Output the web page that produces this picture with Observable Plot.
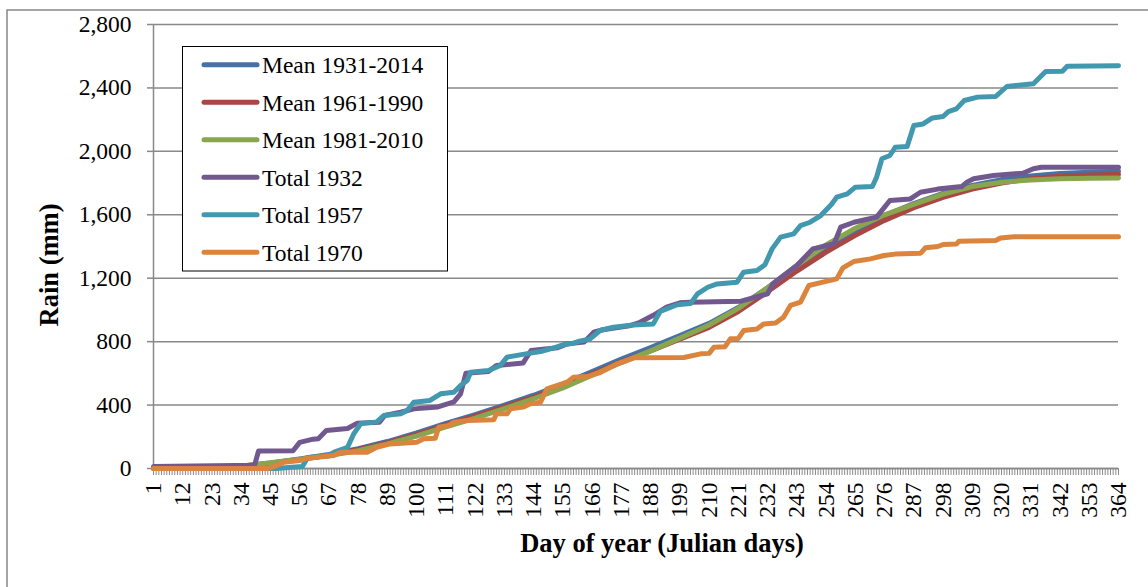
<!DOCTYPE html>
<html><head><meta charset="utf-8">
<script src="https://cdn.jsdelivr.net/npm/d3@7"></script>
<script src="https://cdn.jsdelivr.net/npm/@observablehq/plot@0.6"></script>
<style>
body{margin:0;background:#fff;}
#chart{width:1148px;height:587px;}
#chart svg text{font-family:'Liberation Serif','Times New Roman',serif;}
</style>
</head><body><div id="chart"></div>
<script>
// ---- data ----
const seriesNames = ["Mean 1931-2014","Mean 1961-1990","Mean 1981-2010","Total 1932","Total 1957","Total 1970"];
const seriesColors = ["#4572A7","#AA4643","#89A54E","#71588F","#4198AF","#DB843D"];
const yTicks = [0,400,800,1200,1600,2000,2400,2800];
const xTickLabels = [1,12,23,34,45,56,67,78,89,100,111,122,133,144,155,166,177,188,199,210,221,232,243,254,265,276,287,298,309,320,331,342,353,364];

const meanDays = [1,12,23,34,45,56,67,78,89,100,111,122,133,144,155,166,177,188,199,210,221,232,243,254,265,276,287,298,309,320,331,342,353,364];
const mean1931_2014 = [2,5,9,16,35,60,88,125,170,225,285,340,400,462,532,612,690,762,838,915,1015,1140,1275,1395,1500,1595,1670,1735,1785,1822,1845,1860,1868,1875];
const mean1961_1990 = [2,4,8,14,32,56,84,120,163,215,275,330,390,450,518,597,672,742,815,890,990,1115,1245,1365,1470,1565,1645,1710,1762,1800,1828,1843,1851,1855];
const mean1981_2010 = [2,4,8,14,36,58,82,112,155,205,262,318,378,440,508,588,668,742,822,905,1010,1140,1280,1410,1515,1600,1665,1730,1778,1805,1820,1827,1830,1832];

const days1932 = [1,39,40.5,53.5,56,61,63,66,74,77.5,86,88,94,99,108,114,116.5,118.5,127,130,140,143,153,156.6,163,166.6,170,180,184,189,194,199,203,222,232,234,243,249,257,259.5,264.5,273,278,285.7,289.5,296,305,307,309.5,317,328,332,335,364];
const total1932 = [12,20,110,112,165,185,188,240,252,285,292,334,355,376,388,420,470,600,612,650,665,744,762,786,797,860,875,900,922,966,1017,1045,1049,1055,1101,1165,1280,1385,1417,1522,1553,1585,1690,1700,1742,1762,1778,1806,1827,1848,1862,1890,1900,1900];

const days1957 = [1,47,53,57,59,67,69,74,76.3,79,85,87.6,94,96.4,98.9,105,109,114,116.5,119,120.3,127,131.5,134,141,146.6,152,155,159,161.6,165,169,174,181.5,189,191.6,198,203,205.6,209.5,213,220.5,223,228,231,233.7,236.9,241.8,244.4,248,252,256,258,262,265,271.4,273,275,278,280,284.5,287,290.5,294,298,300,303,306,311,317.8,322,332,336.6,342.9,344.7,364];
const total1957 = [0,0,8,12,70,80,103,134,218,283,294,334,345,366,418,429,471,481,523,555,607,618,650,702,723,738,762,780,790,805,815,870,891,905,912,990,1033,1040,1101,1143,1164,1175,1238,1248,1285,1385,1459,1480,1532,1553,1595,1665,1711,1732,1774,1778,1837,1953,1974,2026,2030,2163,2173,2211,2220,2251,2268,2321,2342,2346,2409,2426,2503,2505,2537,2540];

const days1970 = [1,44,47.5,50,56,59,68.8,71.4,81.4,85,90,100,102.7,107,108.3,112,114,119,129,130,134,135.3,140,142.8,146.6,149,152.7,156.6,159,164,169,175.4,181.7,200.5,206.8,210,211.8,216,218,221,223,228,230.6,235,238,240.6,244.4,247.5,252,258,260.3,264.4,270.7,275.8,280,289.6,291.4,296,298,303,304,317.8,319.6,324.7,364];
const total1970 = [0,0,19,40,50,65,82,103,103,134,155,166,187,190,261,271,292,303,307,345,345,376,387,408,418,502,523,544,576,580,605,660,698,700,723,726,765,768,818,820,870,880,912,917,954,1028,1049,1154,1172,1196,1265,1305,1322,1343,1352,1358,1392,1400,1412,1415,1433,1438,1454,1462,1462];

// ---- build table ----
const seriesDays = [meanDays, meanDays, meanDays, days1932, days1957, days1970];
const seriesValues = [mean1931_2014, mean1961_1990, mean1981_2010, total1932, total1957, total1970];
const rows = [];
seriesNames.forEach((name, i) => {
  seriesDays[i].forEach((d, j) => rows.push({series: name, day: d, rain: seriesValues[i][j]}));
});

const serif = "'Liberation Serif', 'Times New Roman', serif";
const gray = "#898989";
const allDays = d3.range(1, 365);

const chart = Plot.plot({
  width: 1148,
  height: 587,
  marginLeft: 153,
  marginRight: 30,
  marginTop: 24,
  marginBottom: 119,
  style: {fontFamily: serif, fontSize: "23.5px", background: "#fff", color: "#000"},
  x: {domain: [1, 364]},
  y: {domain: [0, 2800]},
  marks: [
    Plot.gridY(yTicks, {stroke: gray, strokeOpacity: 1, strokeWidth: 1.5}),
    Plot.axisY(yTicks, {tickSize: 6, tickPadding: 16, tickFormat: d3.format(","), stroke: gray, strokeWidth: 1.5, fontSize: 23.5, fontFamily: serif, fill: "#000", label: null}),
    Plot.axisX(allDays, {tickSize: 7, stroke: gray, strokeWidth: 1, fill: "none", label: null}),
    Plot.axisX(xTickLabels, {tickSize: 0, tickRotate: -90, tickPadding: 14, fontSize: 23.5, fontFamily: serif, fill: "#000", label: null, tickFormat: d => String(d)}),
    Plot.ruleX([1], {stroke: gray, strokeWidth: 1.5}),
    Plot.ruleY([0], {stroke: gray, strokeWidth: 1.5}),
    ...seriesNames.map((name, i) => Plot.line(rows.filter(r => r.series === name), {
      x: "day", y: "rain", stroke: seriesColors[i], strokeWidth: 5, strokeLinejoin: "round", strokeLinecap: "round"
    }))
  ]
});

const svg = d3.select(chart);
// outer chart-area border
svg.append("path").attr("d", "M7,587 L7,10 L1148,10").attr("fill", "none").attr("stroke", "#878787").attr("stroke-width", 1.5);
// axis titles
svg.append("text").attr("transform", "translate(58,265) rotate(-90)").attr("text-anchor", "middle")
  .attr("font-family", serif).attr("font-weight", "bold").attr("font-size", 26.5).attr("fill", "#000").text("Rain (mm)");
svg.append("text").attr("x", 662).attr("y", 552).attr("text-anchor", "middle")
  .attr("font-family", serif).attr("font-weight", "bold").attr("font-size", 26.5).attr("fill", "#000").text("Day of year (Julian days)");
// legend
const lg = svg.append("g").attr("text-anchor", "start");
lg.append("rect").attr("x", 182.5).attr("y", 46.5).attr("width", 265).attr("height", 224.5)
  .attr("fill", "#fff").attr("stroke", "#000").attr("stroke-width", 1);
seriesNames.forEach((name, i) => {
  const cy = 64.7 + i * 37.5;
  lg.append("line").attr("x1", 204).attr("x2", 257).attr("y1", cy).attr("y2", cy)
    .attr("stroke", seriesColors[i]).attr("stroke-width", 5).attr("stroke-linecap", "round");
  lg.append("text").attr("x", 262).attr("y", cy + 8.5).attr("text-anchor", "start").attr("font-family", serif).attr("font-size", 23.5)
    .attr("fill", "#000").text(name);
});
document.getElementById("chart").appendChild(chart);
</script>
</body></html>
